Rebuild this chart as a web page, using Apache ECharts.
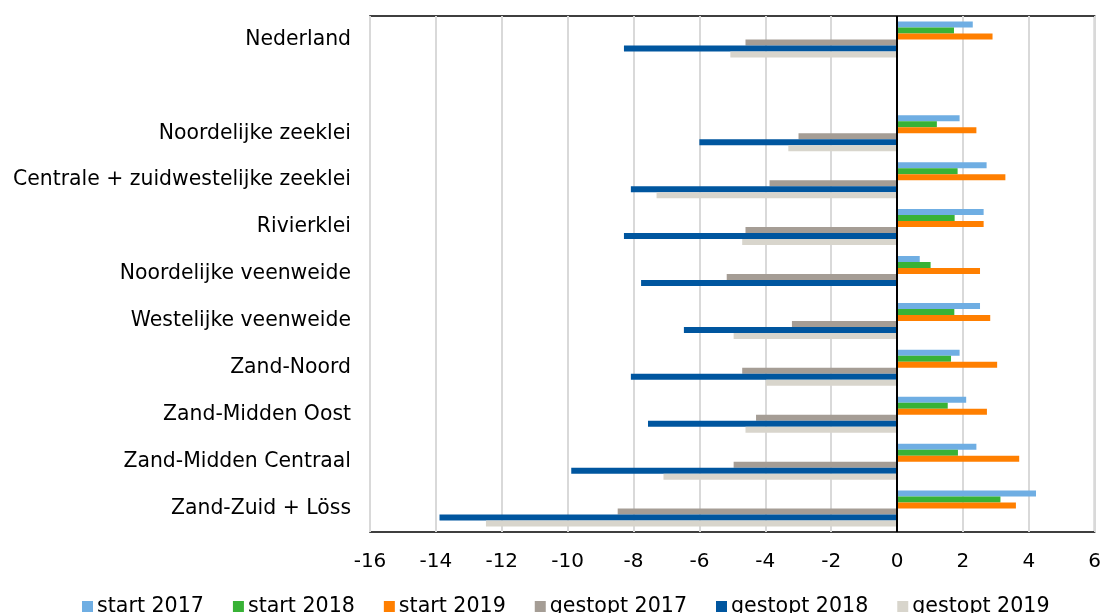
<!DOCTYPE html>
<html>
<head>
<meta charset="utf-8">
<script src="https://cdn.jsdelivr.net/npm/echarts@6/dist/echarts.min.js"></script>
<style>
html,body{margin:0;padding:0;background:#fff;}
#chart{width:1104px;height:613px;}
</style>
</head>
<body>
<div id="chart"></div>
<script>
const categories = ['Nederland', '', 'Noordelijke zeeklei', 'Centrale + zuidwestelijke zeeklei', 'Rivierklei', 'Noordelijke veenweide', 'Westelijke veenweide', 'Zand-Noord', 'Zand-Midden Oost', 'Zand-Midden Centraal', 'Zand-Zuid + Löss'];
const seriesNames = ['start 2017', 'start 2018', 'start 2019', 'gestopt 2017', 'gestopt 2018', 'gestopt 2019'];
const start2017 = [2.3, null, 1.9, 2.72, 2.63, 0.69, 2.52, 1.9, 2.1, 2.41, 4.22];
const start2018 = [1.73, null, 1.21, 1.84, 1.75, 1.02, 1.74, 1.64, 1.54, 1.85, 3.14];
const start2019 = [2.9, null, 2.41, 3.29, 2.63, 2.52, 2.83, 3.04, 2.73, 3.71, 3.61];
const gestopt2017 = [-4.6, null, -2.99, -3.87, -4.6, -5.17, -3.19, -4.7, -4.28, -4.96, -8.48];
const gestopt2018 = [-8.29, null, -6.0, -8.08, -8.29, -7.77, -6.47, -8.08, -7.56, -9.89, -13.89];
const gestopt2019 = [-5.06, null, -3.3, -7.3, -4.7, null, -4.96, -3.98, -4.6, -7.09, -12.48];
const colors = ['#6FAEE3', '#38B236', '#FF7F00', '#A59D95', '#00569F', '#D8D5CC'];
const xMin = -16, xMax = 6, xStep = 2;

const allData = [start2017, start2018, start2019, gestopt2017, gestopt2018, gestopt2019];
const FONT = 'DejaVu Sans';

const chart = echarts.init(document.getElementById('chart'), null, {renderer: 'canvas'});
const series = seriesNames.map((name, i) => {
  const s = {
    name: name,
    type: 'bar',
    data: allData[i],
    barWidth: 6,
    barGap: '0%',
    itemStyle: {color: colors[i]},
    animation: false
  };
  if (i === 0) {
    s.markLine = {
      silent: true,
      symbol: ['none', 'none'],
      label: {show: false},
      lineStyle: {color: '#000', width: 2, type: 'solid'},
      data: [{xAxis: 0}],
      animation: false
    };
  }
  return s;
});

chart.setOption({
  animation: false,
  color: colors,
  grid: {left: 370, right: 8, top: 16, bottom: 81, containLabel: false,
         show: true, borderColor: '#000', borderWidth: 1.5, backgroundColor: 'transparent'},
  legend: {
    bottom: -9,
    left: 77,
    itemWidth: 11,
    itemHeight: 11,
    itemGap: 29,
    icon: 'rect',
    textStyle: {fontFamily: FONT, fontSize: 20.6, color: '#000', padding: [0, 0, 0, -1]},
    data: seriesNames
  },
  xAxis: {
    type: 'value',
    min: xMin, max: xMax, interval: xStep,
    axisLine: {show: false},
    axisTick: {show: false},
    splitLine: {show: true, lineStyle: {color: '#D9D9D9', width: 2}},
    axisLabel: {fontFamily: FONT, fontSize: 20, color: '#000', margin: 20}
  },
  yAxis: {
    type: 'category',
    data: categories,
    inverse: true,
    axisLine: {show: false, onZero: false},
    axisTick: {show: false},
    splitLine: {show: false},
    axisLabel: {fontFamily: FONT, fontSize: 20.4, color: '#000', margin: 19, interval: 0}
  },
  series: series
});
</script>
</body>
</html>
